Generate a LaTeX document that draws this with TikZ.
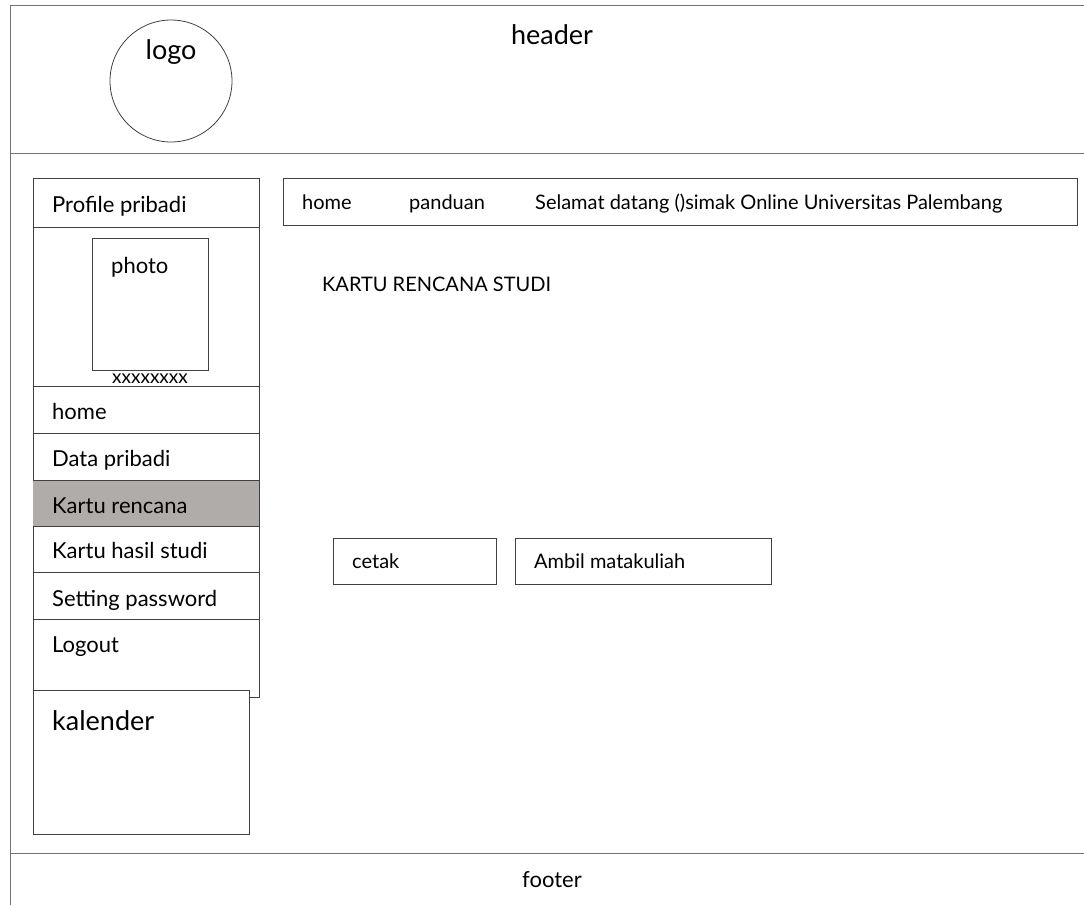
\documentclass[tikz,border=0pt]{standalone}
\usepackage{fontspec}
\setmainfont{Lato}
\tikzset{
  frame/.style={draw=black!55, line width=1pt},
  box/.style={draw=black!75, line width=0.8pt},
  lbl/.style={anchor=west, inner sep=0pt, text height=0.72em, text depth=0.2em,
    font=\fontsize{20}{24}\selectfont},
  side/.style={lbl, font=\fontsize{22}{26}\selectfont},
  big/.style={inner sep=0pt, text height=0.72em, text depth=0.2em,
    font=\fontsize{27}{32}\selectfont},
}
\begin{document}
\begin{tikzpicture}[x=1pt,y=-1pt]
\useasboundingbox (0,0) rectangle (1084,905);
% page frame
\draw[frame](1084,5)--(10,5)--(10,905);
\draw[frame](10,153)--(1084,153);
\draw[frame](10,853)--(1084,853);
% header
\draw[box](171,81)circle[radius=61];
\node[big] (logo) at (171,57){logo};
\node[big] (header) at (552,42){header};
% sidebar
\draw[box](33,690)--(33,178)--(259,178)--(259,697)--(249,697);
\draw[box](33,227)--(259,227);
\draw[box](33,386)--(259,386);
\draw[box](33,433)--(259,433);
\fill[fill={rgb,255:red,176;green,172;blue,170}](33,480)rectangle(259,526);
\draw[box](33,480)--(259,480);
\draw[box](33,526)--(259,526);
\draw[box](33,572)--(259,572);
\draw[box](33,619)--(259,619);
\draw[box](92,238)rectangle(208,370);
\node[side] (profil) at (52,210){Profile pribadi};
\node[side] (photo) at (111,271){photo};
\node[lbl,anchor=center,font=\fontsize{19}{22}\selectfont] (nim) at (150,381){xxxxxxxx};
\node[side] (mhome) at (52,417){home};
\node[side] (mdata) at (52,464){Data pribadi};
\node[side] (mkrs) at (52,511){Kartu rencana};
\node[side] (mkhs) at (52,556){Kartu hasil studi};
\node[side] (mpass) at (52,604){Setting password};
\node[side] (mout) at (52,650){Logout};
% kalender
\draw[box,fill=white](33,690)rectangle(249,834);
\node[big,anchor=west] (kal) at (52,728){kalender};
% content
\draw[box](283,178)rectangle(1077,225);
\node[lbl] (nhome) at (302,207){home};
\node[lbl] (npand) at (409,207){panduan};
\node[lbl] (nwelc) at (535,207){Selamat datang ()simak Online Universitas Palembang};
\node[lbl] (judul) at (322,289){KARTU RENCANA STUDI};
\draw[box](333,538)rectangle(496,584);
\node[lbl] (cetak) at (352,566){cetak};
\draw[box](515,538)rectangle(771,584);
\node[lbl] (ambil) at (534,566){Ambil matakuliah};
% footer
\node[side,anchor=center] (footer) at (552,885){footer};
\end{tikzpicture}
\end{document}
